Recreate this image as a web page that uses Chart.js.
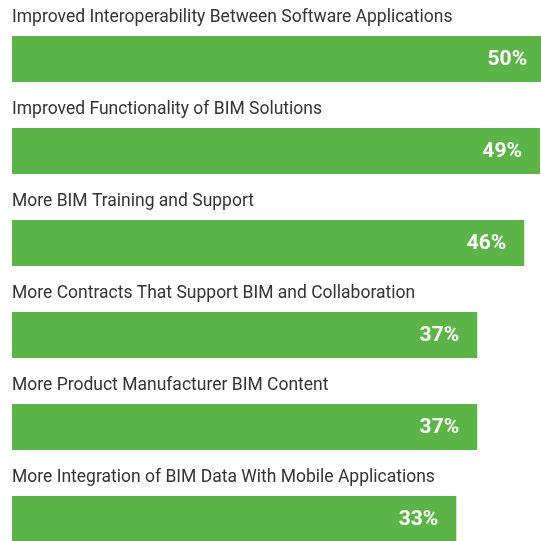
<!DOCTYPE html>
<html>
<head>
<meta charset="utf-8">
<script src="https://cdn.jsdelivr.net/npm/chart.js@4/dist/chart.umd.min.js"></script>
<style>
html,body{margin:0;padding:0;background:#fff;overflow:hidden;width:541px;height:541px;}
canvas{display:block;}
</style>
</head>
<body>
<canvas id="c" width="541" height="580"></canvas>
<script>
const categories = [
  "Improved Interoperability Between Software Applications",
  "Improved Functionality of BIM Solutions",
  "More BIM Training and Support",
  "More Contracts That Support BIM and Collaboration",
  "More Product Manufacturer BIM Content",
  "More Integration of BIM Data With Mobile Applications"
];
const values = [50, 49, 46, 37, 37, 33];
const valueLabels = ["50%", "49%", "46%", "37%", "37%", "33%"];

const AXIS_MIN = -52;
const AXIS_MAX = 49.2;

const labelPlugin = {
  id: 'barLabels',
  afterDatasetsDraw(chart) {
    const ctx = chart.ctx;
    const meta = chart.getDatasetMeta(0);
    ctx.save();
    meta.data.forEach((bar, i) => {
      const half = bar.height / 2;
      ctx.font = '17.5px Roboto';
      ctx.fillStyle = '#333333';
      ctx.textAlign = 'left';
      ctx.textBaseline = 'alphabetic';
      ctx.fillText(chart.data.labels[i], chart.chartArea.left, bar.y - half - 14);
      ctx.font = 'bold 21px Roboto';
      ctx.fillStyle = '#ffffff';
      ctx.textAlign = 'right';
      ctx.fillText(valueLabels[i], bar.x - 18, bar.y + 6);
    });
    ctx.restore();
  }
};

new Chart(document.getElementById('c'), {
  type: 'bar',
  data: {
    labels: categories,
    datasets: [{
      data: values,
      backgroundColor: '#5cb347',
      borderWidth: 0,
      base: AXIS_MIN,
      barPercentage: 0.5,
      categoryPercentage: 1.0
    }]
  },
  options: {
    indexAxis: 'y',
    responsive: false,
    animation: false,
    devicePixelRatio: 1,
    layout: { padding: { left: 12, right: 0, top: 13, bottom: 15 } },
    plugins: { legend: { display: false }, tooltip: { enabled: false } },
    scales: {
      x: { display: false, min: AXIS_MIN, max: AXIS_MAX },
      y: { display: false, offset: true }
    }
  },
  plugins: [labelPlugin]
});
</script>
</body>
</html>
